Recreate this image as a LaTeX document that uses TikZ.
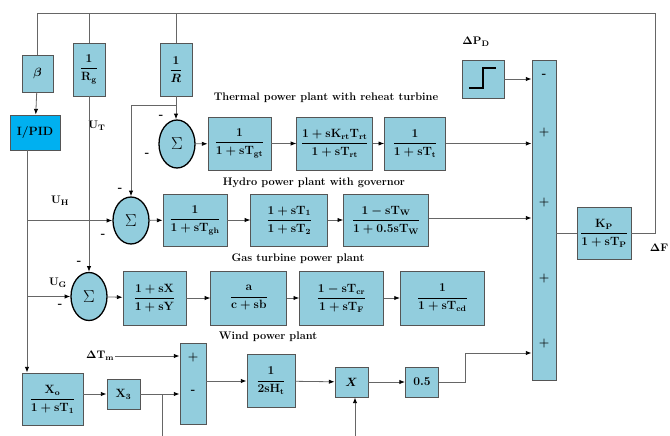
\documentclass[tikz,border=0pt]{standalone}
\usepackage{amsmath}
\usetikzlibrary{arrows.meta,positioning,calc,shapes.geometric}
\definecolor{blkblue}{RGB}{146,205,221}
\definecolor{pidblue}{RGB}{0,176,240}
\definecolor{edgec}{RGB}{85,85,85}
\newcommand{\tf}[2]{$\displaystyle\frac{\mathbf{#1}}{\mathbf{#2}}$}
\tikzset{
  blk/.style={rectangle, draw=edgec, line width=0.8pt, fill=#1, align=center,
              inner sep=1pt, font=\large\boldmath},
  blk/.default=blkblue,
  sz/.style 2 args={minimum width=#1pt, minimum height=#2pt},
  sumc/.style={ellipse, draw=black, line width=1.3pt, fill=blkblue, minimum width=36pt,
               minimum height=48pt, inner sep=0pt, font=\LARGE},
  arr/.style={-{Latex[length=2mm,color=black]}, line width=0.8pt, draw=black!60},
  ln/.style={line width=0.8pt, draw=black!60},
  sgn/.style={font=\large\bfseries, inner sep=1pt},
  ttl/.style={font=\fontsize{11}{13}\selectfont\bfseries\boldmath, inner sep=1pt},
}
\begin{document}
\begin{tikzpicture}[x=1pt, y=-1pt, node distance=25pt]
  \useasboundingbox (0,0) rectangle (670,436);
  \coordinate (top) at (655,13);
  \node[blk, sz={31}{37}] (beta) at (37.5,73.5) {$\beta$};
  \node[blk, sz={32}{53}] (rg) at (89,69.5) {\tf{1}{R_g}};
  \node[blk, sz={32}{53}] (r) at (176,69.5) {$\displaystyle\frac{\mathbf{1}}{R}$};
  \node[blk=pidblue, sz={50}{35}, font=\large\bfseries] (pid) at (35,132.5) {I/PID};
  \node[ttl] (ut) at (97,126) {$\mathbf{U_T}$};
  \node[ttl] (uh) at (60,201) {$\mathbf{U_H}$};
  \node[ttl] (ug) at (58,283) {$\mathbf{U_G}$};
  % thermal
  \node[ttl] (tth) at (326,98) {Thermal power plant with reheat turbine};
  \node[sumc] (st) at (177,144) {$\Sigma$};
  \node[sgn] (st1) at (161,117) {-};
  \node[sgn] (st2) at (147,155) {-};
  \node[blk, sz={63}{53}] (tg1) at (239.5,143.5) {\tf{1}{1+sT_{gt}}};
  \node[blk, sz={76}{53}, right=25pt of tg1] (tg2) {\tf{1+sK_{rt}T_{rt}}{1+sT_{rt}}};
  \node[blk, sz={61}{53}, right=11pt of tg2] (tg3) {\tf{1}{1+sT_t}};
  % hydro
  \node[ttl] (thy) at (314,183) {Hydro power plant with governor};
  \node[sumc, minimum height=47pt] (sh) at (131,220.5) {$\Sigma$};
  \node[sgn] (sh1) at (120,190) {-};
  \node[sgn] (sh2) at (103,236) {-};
  \node[blk, sz={64}{52}] (hg1) at (195,220) {\tf{1}{1+sT_{gh}}};
  \node[blk, sz={77}{52}, right=23pt of hg1] (hg2) {\tf{1+sT_1}{1+sT_2}};
  \node[blk, sz={85}{52}, right=15pt of hg2] (hg3) {\tf{1-sT_W}{1+0.5sT_W}};
  % gas
  \node[ttl] (tgs) at (298,259) {Gas turbine power plant};
  \node[sumc] (sg) at (89,296.5) {$\Sigma$};
  \node[sgn] (sg1) at (79,263) {-};
  \node[sgn] (sg2) at (60,306) {-};
  \node[blk, sz={63}{54}] (gt1) at (154.5,298) {\tf{1+sX}{1+sY}};
  \node[blk, sz={76}{54}, right=24pt of gt1] (gt2) {\tf{a}{c+sb}};
  \node[blk, sz={84}{54}, right=12pt of gt2] (gt3) {\tf{1-sT_{cr}}{1+sT_F}};
  \node[blk, sz={84}{54}, right=16pt of gt3] (gt4) {\tf{1}{1+sT_{cd}}};
  % wind
  \node[ttl] (twd) at (268,337) {Wind power plant};
  \node[blk, sz={61}{52}] (xo) at (52.5,399) {\tf{X_o}{1+sT_1}};
  \node[blk, sz={33}{30}] (x3) at (123.5,394) {$\mathbf{X_3}$};
  \node[blk, sz={26}{81}] (pm) at (193,383.5) {};
  \node[sgn] (pmp) at (193,358) {+};
  \node[sgn] (pmm) at (193,392) {-};
  \node[ttl] (dtm) at (100,356) {$\mathbf{\Delta T_m}$};
  \node[blk, sz={48}{53}] (h2) at (271,381) {\tf{1}{2sH_t}};
  \node[blk, sz={33}{30}] (mul) at (351.5,382) {$\boldsymbol{X}$};
  \node[blk, sz={33}{30}] (half) at (422,382) {$\mathbf{0.5}$};
  % summing bar and area
  \node[ttl] (dpd) at (476,42) {$\mathbf{\Delta P_D}$};
  \node[blk, sz={42}{38}] (step) at (483,79) {};
  \draw[line width=1.2pt] ($(step.center)+(-14,9)$) -- ++(14,0) -- ++(0,-20) -- ++(13,0);
  \node[blk, sz={24}{320}] (bar) at (544,220) {};
  \node[sgn] (bm) at (544,76) {-};
  \foreach \y [count=\i] in {133,203,279,344}
    \node[sgn] (bp\i) at (544,\y) {+};
  \node[blk, sz={54}{52}] (kp) at (604,233) {\tf{K_P}{1+sT_P}};
  \node[ttl, anchor=east] (df) at (669.5,248) {$\mathbf{\Delta F}$};
  \coordinate (bus) at ($(pid.south)+(-8,0)$);
  \coordinate (rbr) at ($(r.south)+(0,9)$);
  \coordinate (x3dn) at (162,436);
  \coordinate (muldn) at (355,436);
  \coordinate (wj) at (465,353);
  \draw[ln] (kp.east) -| (top) -| (beta.north);
  \draw[ln] (rg.north) -- (rg.north |- top);
  \draw[ln] (r.north) -- (r.north |- top);
  \draw[arr] (beta) -- (pid);
  \draw[arr] (bus) -- (bus |- xo.north);
  \draw[arr] (bus |- sh.west) -- (sh.west);
  \draw[arr] (bus |- sg.west) -- (sg.west);
  \draw[arr] (rg.south) -- (sg.north);
  \draw[arr] (r.south) -- (r.south |- st.north);
  \draw[arr] (rbr) -| (sh.north);
  \draw[arr] (st) -- (tg1); \draw[arr] (tg1) -- (tg2); \draw[arr] (tg2) -- (tg3);
  \draw[arr] (tg3.east) -- (tg3.east -| bar.west);
  \draw[arr] (sh) -- (hg1); \draw[arr] (hg1) -- (hg2); \draw[arr] (hg2) -- (hg3);
  \draw[arr] ($(hg3.east)+(0,-2)$) -- ($(hg3.east -| bar.west)+(0,-2)$);
  \draw[arr] (sg) -- (gt1); \draw[arr] (gt1) -- (gt2); \draw[arr] (gt2) -- (gt3); \draw[arr] (gt3) -- (gt4);
  \draw[arr] (step.east) -- (step.east -| bar.west);
  \draw[ln] (bar.east |- kp.west) -- (kp.west);
  \draw[arr] (xo.east |- x3.west) -- (x3.west);
  \draw[arr] (x3.east) -- (x3.east -| pm.west);
  \draw[ln] (x3dn) -- (x3dn |- x3.east);
  \draw[arr] (dtm.east) -- (dtm.east -| pm.west);
  \draw[arr] (pm.east |- h2.west) -- (h2.west);
  \draw[arr] (h2) -- (mul);
  \draw[arr] (mul) -- (half);
  \draw[arr] (muldn) -- (muldn |- mul.south);
  \draw[arr] (half.east) -| (wj) -- (wj -| bar.west);
\end{tikzpicture}
\end{document}
